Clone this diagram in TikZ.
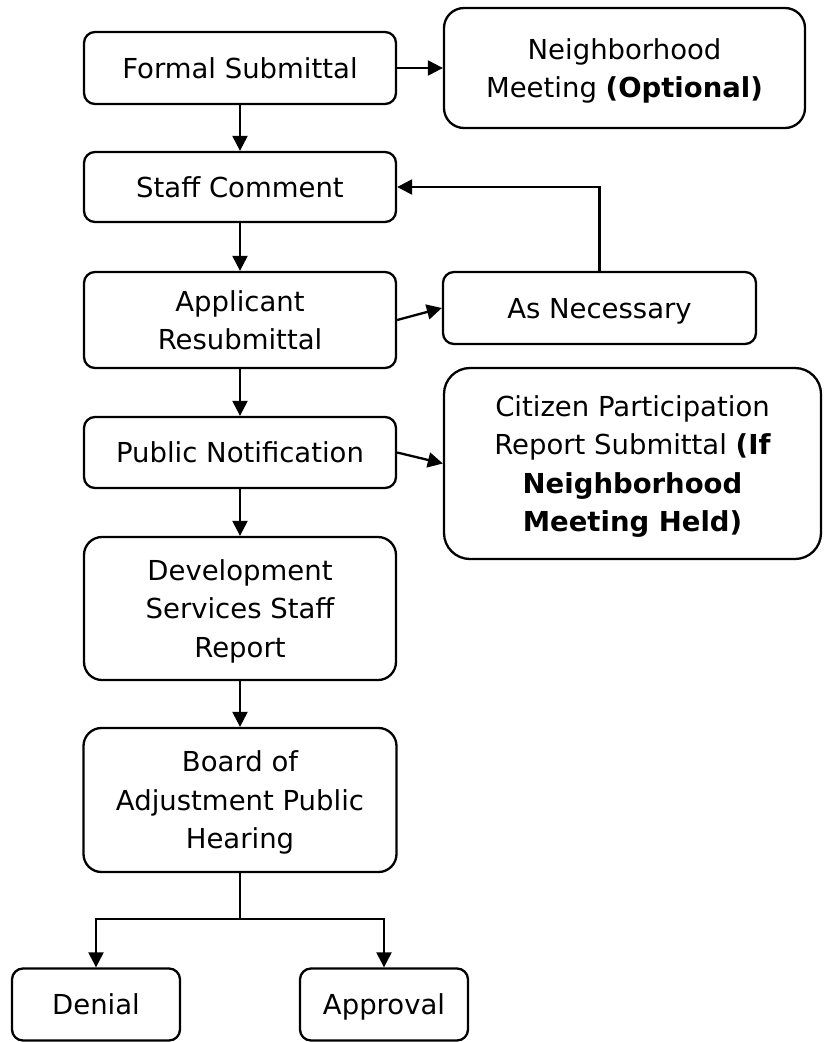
\documentclass[tikz,border=0pt]{standalone}
\usepackage{fontspec}
\setmainfont{DejaVu Sans}
\usetikzlibrary{arrows.meta}
\begin{document}
\begin{tikzpicture}[x=1pt,y=-1pt,
  box/.style={draw, line width=2.3pt, rounded corners=11pt, align=center, inner sep=0pt,
    font=\fontsize{27.5}{38.5}\selectfont, text depth=0pt},
  arr/.style={line width=2.3pt, -{Triangle[length=15pt,width=15pt]}},
  ln/.style={line width=2.3pt}]
\useasboundingbox (0,0) rectangle (823,1042);
\node[box, minimum width=312pt, minimum height=72pt] (fs) at (240,68) {Formal Submittal};
\node[box, rounded corners=20pt, minimum width=361pt, minimum height=120pt] (nm) at (624.5,68) {Neighborhood\\Meeting \textbf{(Optional)}};
\node[box, minimum width=312pt, minimum height=70pt] (sc) at (240,187) {Staff Comment};
\node[box, minimum width=312pt, minimum height=96pt] (ar) at (240,320) {Applicant\\Resubmittal};
\node[box, minimum width=313pt, minimum height=72pt] (an) at (599.5,308) {As Necessary};
\node[box, minimum width=312pt, minimum height=71pt] (pn) at (240,452.5) {Public Notification};
\node[box, rounded corners=26pt, minimum width=377pt, minimum height=191pt] (cp) at (632.5,463.5) {Citizen Participation\\Report Submittal \textbf{(If}\\\textbf{Neighborhood}\\\textbf{Meeting Held)}};
\node[box, rounded corners=18pt, minimum width=312pt, minimum height=143pt] (ds) at (240,608.5) {Development\\Services Staff\\Report};
\node[box, rounded corners=18pt, minimum width=313pt, minimum height=144pt] (bd) at (240,800) {Board of\\Adjustment Public\\Hearing};
\node[box, minimum width=168pt, minimum height=72pt] (de) at (96,1004.5) {Denial};
\node[box, minimum width=168pt, minimum height=72pt] (ap) at (384,1004.5) {Approval};
\coordinate (br) at (240,919);
\draw[arr] (fs.east) -- (nm.west);
\draw[arr] (fs.south) -- (sc.north);
\draw[arr] (sc.south) -- (ar.north);
\draw[arr] (ar.east) -- (an.west);
\draw[arr] (an.north) |- (sc.east);
\draw[arr] (ar.south) -- (pn.north);
\draw[arr] (pn.east) -- (cp.west);
\draw[arr] (pn.south) -- (ds.north);
\draw[arr] (ds.south) -- (bd.north);
\draw[ln] (bd.south) -- (br);
\draw[arr] (br) -| (de.north);
\draw[arr] (br) -| (ap.north);
\end{tikzpicture}
\end{document}
